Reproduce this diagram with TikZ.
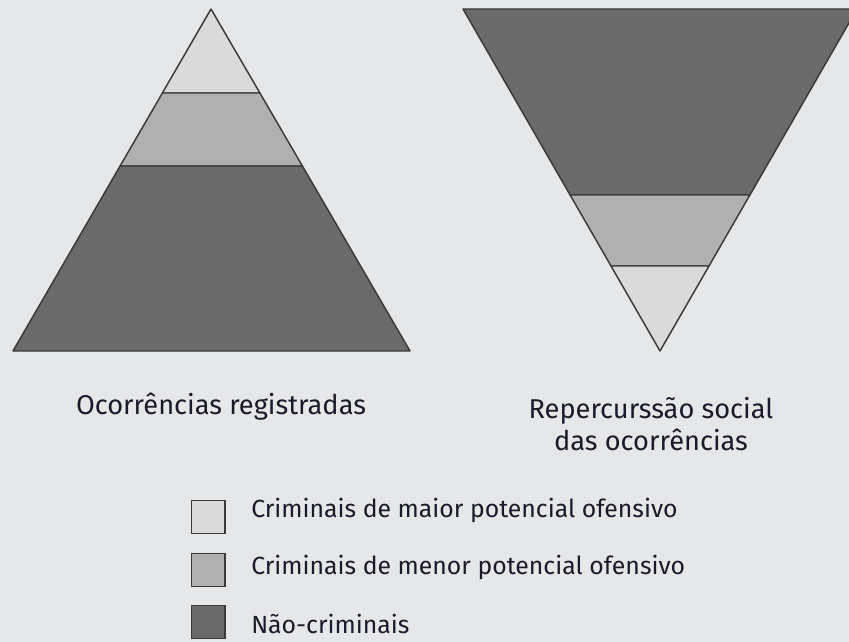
\documentclass[tikz,border=0pt]{standalone}
\usepackage{fontspec}
\setmainfont{Fira Sans}
\definecolor{bg}{HTML}{E6E7E9}
\definecolor{lightband}{HTML}{DADADA}
\definecolor{midband}{HTML}{B0B0B0}
\definecolor{darkband}{HTML}{6A6A6B}
\definecolor{edge}{HTML}{3A3A3A}
\definecolor{txt}{HTML}{1A1A2A}
\begin{document}
\begin{tikzpicture}[x=0.75pt,y=-0.75pt,
  band/.style={draw=edge,line width=1.1pt,line join=round},
  lbl/.style={text=txt,font=\fontsize{20.4}{24}\selectfont,inner sep=0pt,align=center},
  keytext/.style={text=txt,font=\fontsize{18.6}{24}\selectfont,inner sep=0pt,anchor=west},
  keybox/.style={draw=edge,line width=1pt,minimum width=25pt,minimum height=24.5pt,inner sep=0pt,anchor=north west}]
\fill[bg] (0,0) rectangle (849,642);
\useasboundingbox (0,0) rectangle (849,642);
\begin{scope}
\clip (0,0) rectangle (849,642);
% left pyramid
\filldraw[band,fill=lightband] (211,9) -- (259.9,93) -- (162.4,93) -- cycle;
\filldraw[band,fill=midband] (162.4,93) -- (259.9,93) -- (302.4,166) -- (120.1,166) -- cycle;
\filldraw[band,fill=darkband] (120.1,166) -- (302.4,166) -- (410,351) -- (13,351) -- cycle;
% right inverted pyramid
\filldraw[band,fill=darkband] (463,9) -- (857,9) -- (749.9,195) -- (570.1,195) -- cycle;
\filldraw[band,fill=midband] (570.1,195) -- (749.9,195) -- (709,266) -- (611,266) -- cycle;
\filldraw[band,fill=lightband] (611,266) -- (709,266) -- (660,351) -- cycle;
\end{scope}
% captions
\node[lbl] (capL) at (221,407) {Ocorrências registradas};
\node[lbl] (capR) at (651,424) {Repercurssão social\\das ocorrências};
% legend
\node[keybox,fill=lightband] (k1) at (191,500) {};
\node[keybox,fill=midband] (k2) at (191,553) {};
\node[keybox,fill=darkband] (k3) at (191,605) {};
\node[keytext] (t1) at (251,510) {Criminais de maior potencial ofensivo};
\node[keytext] (t2) at (251,567) {Criminais de menor potencial ofensivo};
\node[keytext] (t3) at (251,624) {Não-criminais};
\end{tikzpicture}
\end{document}
